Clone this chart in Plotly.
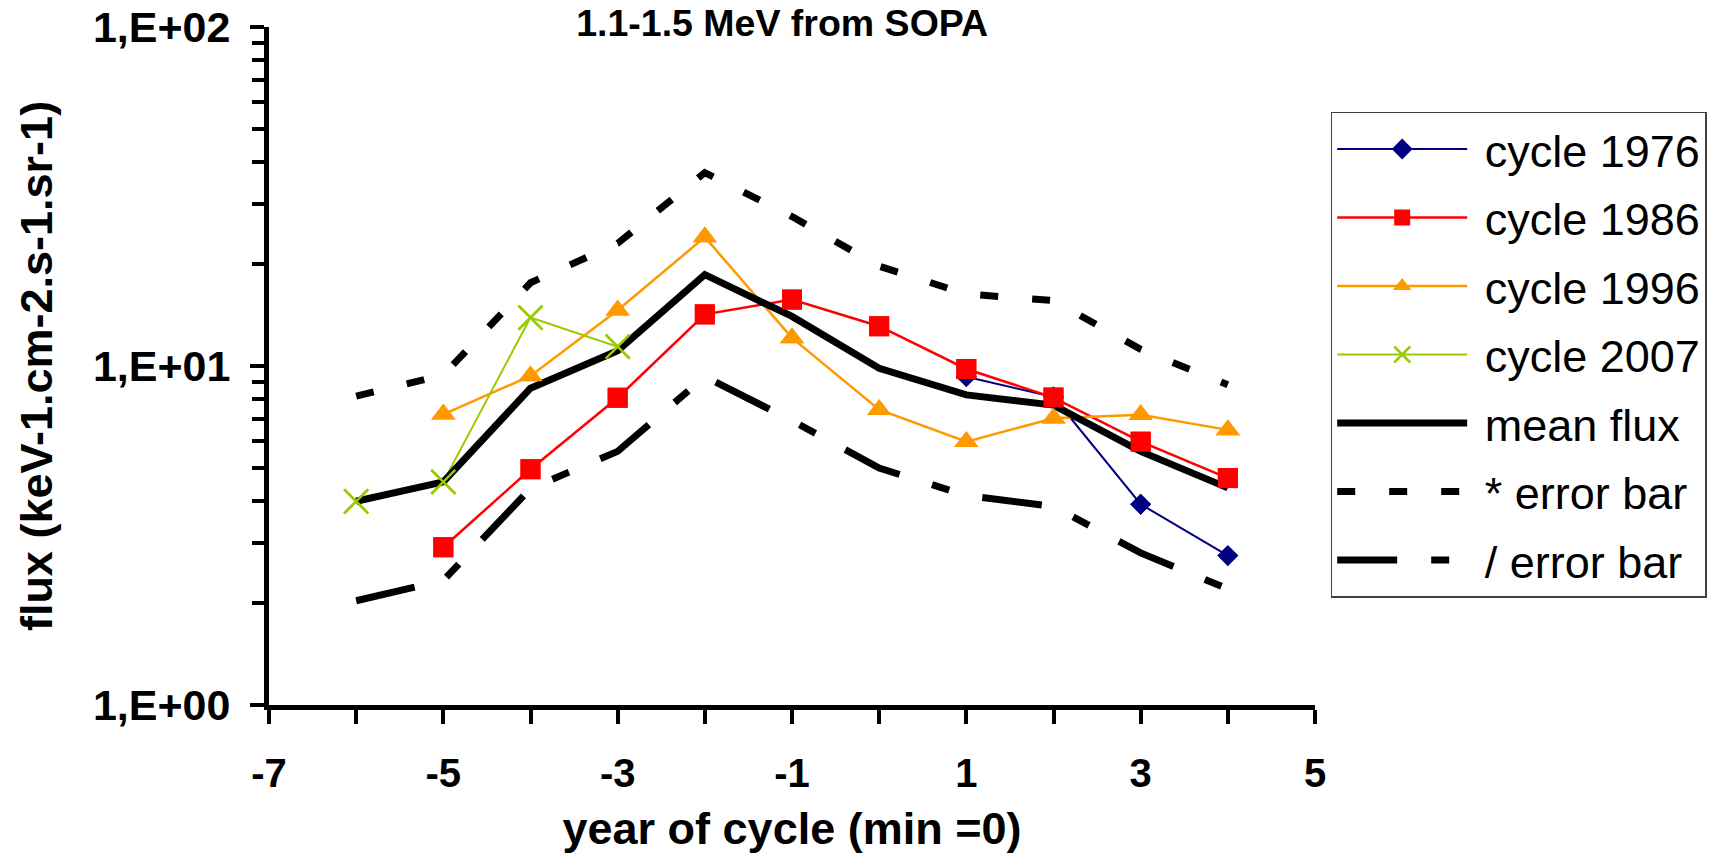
import plotly.graph_objects as go

# Year of the solar cycle (minimum = 0)
years_all = [-6, -5, -4, -3, -2, -1, 0, 1, 2, 3, 4]
years_1976 = [1, 2, 3, 4]
years_1986 = [-5, -4, -3, -2, -1, 0, 1, 2, 3, 4]
years_1996 = [-5, -4, -3, -2, -1, 0, 1, 2, 3, 4]
years_2007 = [-6, -5, -4, -3]

# Flux values (keV-1.cm-2.s-1.sr-1)
flux_1976 = [9.3, 8.1, 3.91, 2.76]
flux_1986 = [2.92, 4.96, 8.06, 14.2, 15.7, 13.1, 9.8, 8.07, 5.98, 4.67]
flux_1996 = [7.2, 9.35, 14.6, 24.0, 12.1, 7.43, 5.98, 7.01, 7.18, 6.48]
flux_2007 = [3.99, 4.55, 13.9, 11.4]
mean_flux = [3.99, 4.55, 8.6, 11.1, 18.6, 14.0, 9.85, 8.22, 7.67, 5.6, 4.37]
err_upper = [8.15, 9.4, 17.6, 23.0, 37.2, 27.6, 19.7, 16.3, 15.6, 11.2, 8.8]
err_lower = [2.03, 2.33, 4.35, 5.6, 9.3, 6.9, 5.0, 4.15, 3.85, 2.81, 2.2]

x_tickvals = list(range(-7, 6))
x_ticktext = [str(v) if v % 2 else "" for v in x_tickvals]
y_tickvals = [1, 10, 100]
y_ticktext = ["1,E+00", "1,E+01", "1,E+02"]
y_minor = [m * d for d in (1, 10) for m in range(2, 10)]

FONT = "Liberation Sans, Arial, sans-serif"
NBSP = "\u00a0"  # small gap between legend sample and its label

cycles = [
    ("cycle 1976", years_1976, flux_1976, "#000080", "diamond", 16, 2),
    ("cycle 1986", years_1986, flux_1986, "#FF0000", "square", 20, 2.5),
    ("cycle 1996", years_1996, flux_1996, "#FF9900", "triangle-up", 21, 2.5),
    ("cycle 2007", years_2007, flux_2007, "#99CC00", "x-thin-open", 24, 2),
]


def cycle_marker(sym, size, col):
    m = dict(symbol=sym, size=size, color=col)
    if sym.startswith("x"):
        m["line"] = dict(color=col, width=2.5)
    return m


fig = go.Figure()

for i, (name, xs, ys, col, sym, size, lw) in enumerate(cycles):
    fig.add_trace(go.Scatter(
        x=xs, y=ys, name=NBSP + name, mode="lines+markers",
        line=dict(color=col, width=lw), marker=cycle_marker(sym, size, col),
        legendgroup=f"g{i}",
    ))

fig.add_trace(go.Scatter(
    x=years_all, y=mean_flux, name=NBSP + "mean flux", mode="lines",
    line=dict(color="black", width=7), legendgroup="g4",
))
fig.add_trace(go.Scatter(
    x=years_all, y=err_upper, name=NBSP + "* error bar", mode="lines",
    line=dict(color="black", width=7, dash="18px,34px"), legendgroup="g5",
))
fig.add_trace(go.Scatter(
    x=years_all, y=err_lower, name=NBSP + "/ error bar", mode="lines",
    line=dict(color="black", width=7, dash="60px,34px,18px,34px"),
    legendgroup="g6",
))

# markers redrawn on top of the thick black curves
for name, xs, ys, col, sym, size, lw in cycles:
    fig.add_trace(go.Scatter(
        x=xs, y=ys, mode="markers", marker=cycle_marker(sym, size, col),
        showlegend=False, hoverinfo="skip",
    ))

fig.update_layout(
    width=1719, height=854,
    margin=dict(l=269, r=400, t=27, b=149),
    paper_bgcolor="white", plot_bgcolor="white",
    font=dict(family=FONT, color="black"),
    title=dict(
        text="<b>1.1-1.5 MeV from SOPA</b>",
        font=dict(size=37.5, family=FONT),
        x=0.455, xanchor="center", y=0.973, yanchor="middle",
    ),
    legend=dict(
        x=1.015, xanchor="left", y=0.875, yanchor="top",
        font=dict(size=45, family=FONT),
        bordercolor="#404040", borderwidth=1.5, bgcolor="white",
        itemwidth=130, tracegroupgap=7, traceorder="grouped",
    ),
    showlegend=True,
)

fig.update_xaxes(
    range=[-7, 5], showgrid=False, zeroline=False, automargin=False,
    showline=True, linecolor="black", linewidth=5,
    ticks="outside", ticklen=14, tickwidth=4, tickcolor="black",
    tickvals=x_tickvals, ticktext=x_ticktext,
    tickfont=dict(size=40, family=FONT, weight="bold"), ticklabelstandoff=15,
    title=dict(text="<b>year of cycle (min =0)</b>",
               font=dict(size=45, family=FONT), standoff=22),
)
fig.update_yaxes(
    type="log", range=[0, 2], showgrid=False, zeroline=False, automargin=False,
    showline=True, linecolor="black", linewidth=5,
    ticks="outside", ticklen=14, tickwidth=4, tickcolor="black",
    tickvals=y_tickvals, ticktext=y_ticktext,
    tickfont=dict(size=43, family=FONT, weight="bold"), ticklabelstandoff=11,
    minor=dict(ticks="outside", ticklen=12, tickwidth=4,
               tickcolor="black", tickvals=y_minor, showgrid=False),
    title=dict(text="<b>flux (keV-1.cm-2.s-1.sr-1)</b>",
               font=dict(size=45, family=FONT), standoff=28),
)

fig.write_html("out.html")
